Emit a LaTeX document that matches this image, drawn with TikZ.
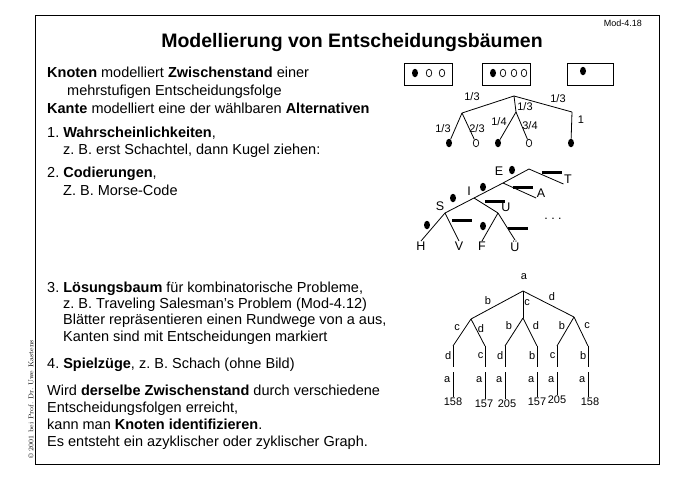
\documentclass[tikz,border=0pt]{standalone}
\usepackage{fontspec}
\setsansfont{Liberation Sans}
\usetikzlibrary{shapes.geometric, positioning}
\frenchspacing

\begin{document}
\begin{tikzpicture}[x=1pt, y=-1pt, every node/.style={font=\sffamily}]
\tikzset{
  txt/.style={anchor=base west, inner sep=0pt, font=\sffamily\fontsize{14.5}{17}\selectfont},
  lbl/.style={inner sep=0.5pt, font=\sffamily\fontsize{11}{12}\selectfont},
  letter/.style={inner sep=0.5pt, font=\sffamily\fontsize{12.5}{13}\selectfont},
  wire/.style={line width=0.8pt},
  ballfull/.style={ellipse, fill=black, minimum width=6pt, minimum height=8.5pt, inner sep=0pt},
  ballopen/.style={ellipse, draw, line width=0.7pt, minimum width=5.5pt, minimum height=7.5pt, inner sep=0pt},
  dashbar/.style={rectangle, fill=black, minimum width=20pt, minimum height=3pt, inner sep=0pt},
  urne/.style={rectangle, draw, line width=0.8pt, minimum height=22pt, inner sep=0pt}
}
\useasboundingbox (0,0) rectangle (678,480);

% Frame and header
\draw[line width=1pt] (35,15) rectangle (659,464);
\node[anchor=east, inner sep=0pt, font=\sffamily\fontsize{9}{10}\selectfont] (modnr) at (642,23) {Mod-4.18};
\node[font=\sffamily\bfseries\fontsize{19.5}{22}\selectfont] (title) at (352,42) {Modellierung von Entscheidungsbäumen};
\node[rotate=90, anchor=west, inner sep=0pt, font=\rmfamily\fontsize{7}{8}\selectfont] (copy) at (31,459) {\copyright\ 2001 bei Prof. Dr. Uwe Kastens};

% Text
\node[txt] (k1) at (47,77) {\textbf{Knoten} modelliert \textbf{Zwischenstand} einer};
\node[txt] (k2) at (67,95) {mehrstufigen Entscheidungsfolge};
\node[txt] (k3) at (47,113) {\textbf{Kante} modelliert eine der wählbaren \textbf{Alternativen}};
\node[txt] (p1) at (47,137) {1. \textbf{Wahrscheinlichkeiten},};
\node[txt] (p1b) at (63,154) {z. B. erst Schachtel, dann Kugel ziehen:};
\node[txt] (p2) at (47,177) {2. \textbf{Codierungen},};
\node[txt] (p2b) at (63,195) {Z. B. Morse-Code};
\node[txt] (p3) at (47,292) {3. \textbf{Lösungsbaum} für kombinatorische Probleme,};
\node[txt] (p3b) at (63,308) {z. B. Traveling Salesman's Problem (Mod-4.12)};
\node[txt] (p3c) at (63,324) {Blätter repräsentieren einen Rundwege von a aus,};
\node[txt] (p3d) at (63,341) {Kanten sind mit Entscheidungen markiert};
\node[txt] (p4) at (47,368) {4. \textbf{Spielzüge}, z. B. Schach (ohne Bild)};
\node[txt] (w1) at (47,395) {Wird \textbf{derselbe Zwischenstand} durch verschiedene};
\node[txt] (w2) at (47,412) {Entscheidungsfolgen erreicht,};
\node[txt] (w3) at (47,429) {kann man \textbf{Knoten identifizieren}.};
\node[txt] (w4) at (47,446) {Es entsteht ein azyklischer oder zyklischer Graph.};

% Schachteln
\node[urne, minimum width=48pt] (box1) at (428,74) {};
\node[urne, minimum width=48pt] (box2) at (506,74) {};
\node[urne, minimum width=46pt] (box3) at (590,74) {};
\node[ballfull] (b11) at (415,73) {};
\node[ballopen] (b12) at (429,73) {};
\node[ballopen] (b13) at (442,73) {};
\node[ballfull] (b21) at (493,73) {};
\node[ballopen] (b22) at (503,73) {};
\node[ballopen] (b23) at (514,73) {};
\node[ballopen] (b24) at (524,73) {};
\node[ballfull] (b31) at (583,71) {};

% Wahrscheinlichkeitsbaum
\coordinate (r) at (514,96);
\coordinate (r1) at (462,113);
\coordinate (r2) at (516,112);
\coordinate (r3) at (572,112);
\node[ballfull] (l1) at (449,143) {};
\node[ballopen] (l2) at (476,143) {};
\node[ballfull] (l3) at (498,143) {};
\node[ballopen] (l4) at (529,143) {};
\node[ballfull] (l5) at (571,143) {};
\draw[wire] (r) -- (r1);
\draw[wire] (r) -- (r2);
\draw[wire] (r) -- (r3);
\draw[wire] (r1) -- (l1);
\draw[wire] (r1) -- (l2);
\draw[wire] (r2) -- (l3);
\draw[wire] (r2) -- (l4);
\draw[wire] (r3) -- (l5);
\node[lbl] (f1) at (472,97) {1/3};
\node[lbl] (f2) at (525,107) {1/3};
\node[lbl] (f3) at (558,99) {1/3};
\node[lbl] (f4) at (581,120) {1};
\node[lbl] (f5) at (443,129) {1/3};
\node[lbl] (f6) at (477,129) {2/3};
\node[lbl] (f7) at (499,122) {1/4};
\node[lbl] (f8) at (530,126) {3/4};

% Morse-Baum
\coordinate (m0) at (529,169);
\coordinate (mE) at (503,183);
\coordinate (mI) at (474,198);
\coordinate (mS) at (445,213);
\coordinate (mU) at (498,213);
\node[letter] (lT) at (568,179) {T};
\node[letter] (lA) at (541,193) {A};
\node[letter] (lH) at (421,246) {H};
\node[letter] (lV) at (459,246) {V};
\node[letter] (lF) at (482,246) {F};
\node[letter] (lUe) at (515,246) {Ü};
\node[letter] (lE) at (499,171) {E};
\node[letter] (lI) at (469,191) {I};
\node[letter] (lS) at (440,206) {S};
\node[letter] (lU) at (506,207) {U};
\draw[wire] (m0) -- (mE) -- (mI) -- (mS);
\draw[wire] (m0) -- (lT.south west);
\draw[wire] (mE) -- (lA.south west);
\draw[wire] (mI) -- (mU);
\draw[wire] (mS) -- (lH.north);
\draw[wire] (mS) -- (lV.north);
\draw[wire] (mU) -- (lF.north);
\draw[wire] (mU) -- (lUe.north);
\node[ballfull] (dE) at (512,170) {};
\node[ballfull] (dI) at (483,187) {};
\node[ballfull] (dS) at (453,198) {};
\node[ballfull] (dH) at (427,225) {};
\node[ballfull] (dF) at (483,226) {};
\node[dashbar] (sT) at (552,172) {};
\node[dashbar] (sA) at (523,187) {};
\node[dashbar] (sU) at (495,201) {};
\node[dashbar] (sV) at (462,220) {};
\node[dashbar] (sUe) at (518,228) {};
\node[letter] (more) at (553,219) {.\ .\ .};

% Loesungsbaum
\coordinate (s0) at (523,291);
\coordinate (s1) at (471,319);
\coordinate (s2) at (523,318);
\coordinate (s3) at (574,317);
\node[lbl] (sa) at (524,277) {a};
\draw[wire] (s0) -- (s1);
\draw[wire] (s0) -- (s2);
\draw[wire] (s0) -- (s3);
\node[lbl] (e1) at (488,301) {b};
\node[lbl] (e2) at (527,303) {c};
\node[lbl] (e3) at (552,297) {d};
\node[lbl] (e11) at (457,328) {c};
\node[lbl] (e12) at (481,329) {d};
\node[lbl] (e21) at (509,326) {b};
\node[lbl] (e22) at (536,326) {d};
\node[lbl] (e31) at (562,326) {b};
\node[lbl] (e32) at (587,326) {c};
\foreach \x/\parent/\lab/\nx/\ny/\num [count=\i] in
  {453/s1/d/453/402/158, 485/s1/c/484/404/157, 505/s2/d/507/404/205,
   537/s2/b/537/402/157, 557/s3/c/557/400/205, 588/s3/b/590/402/158}{
  \coordinate (t\i) at (\x,346);
  \coordinate (u\i) at (\x,367);
  \coordinate (v\i) at (\x,372);
  \node[lbl] (n\i) at (\nx,\ny) {\num};
  \draw[wire] (\parent) -- (t\i);
  \draw[wire] (t\i) -- (u\i);
  \draw[wire] (v\i) -- (n\i.north -| v\i);
  \node[lbl, anchor=east] (h\i) at (\x-1,356) {\lab};
  \node[lbl, anchor=east] (k\i) at (\x-2,380) {a};
}
\end{tikzpicture}
\end{document}
